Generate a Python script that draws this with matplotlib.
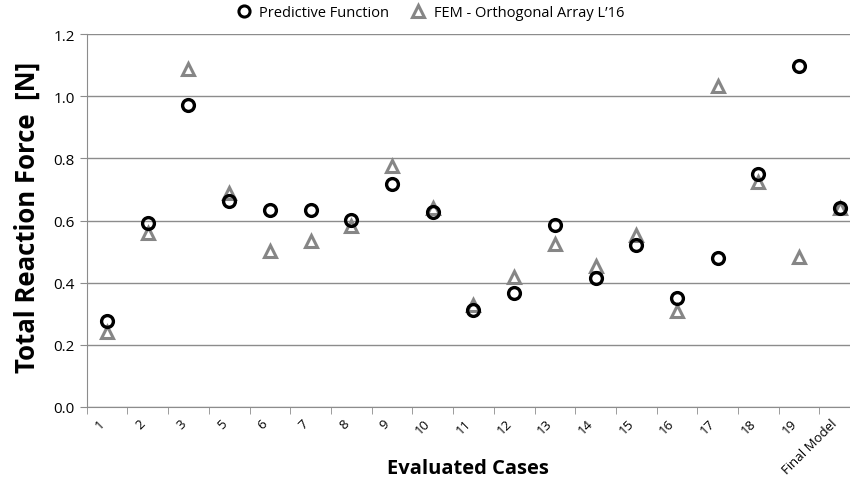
import numpy as np
import matplotlib
matplotlib.use("Agg")
import matplotlib.pyplot as plt
from matplotlib.lines import Line2D

cases = ["1", "2", "3", "5", "6", "7", "8", "9", "10", "11", "12", "13",
         "14", "15", "16", "17", "18", "19", "Final Model"]
predictive = [0.277, 0.591, 0.972, 0.663, 0.635, 0.635, 0.603, 0.718, 0.628,
              0.311, 0.366, 0.584, 0.414, 0.521, 0.351, 0.478, 0.751, 1.098, 0.640]
fem = [0.240, 0.561, 1.087, 0.688, 0.502, 0.533, 0.581, 0.774, 0.641,
       0.328, 0.419, 0.523, 0.454, 0.553, 0.309, 1.034, 0.725, 0.481, 0.640]
yticks = [0.0, 0.2, 0.4, 0.6, 0.8, 1.0, 1.2]

plt.rcParams['font.family'] = ['Open Sans', 'DejaVu Sans']

fig = plt.figure(figsize=(8.5, 4.81), dpi=100)
# plot area runs a little past the right edge, as in the original
ax = fig.add_axes([0.102, 0.152, 0.91, 0.775])

x = np.arange(len(cases))
ax.plot(x, fem, linestyle='none', marker='^', markersize=9, markerfacecolor='none',
        markeredgecolor='#868686', markeredgewidth=2.2, zorder=3)
ax.plot(x, predictive, linestyle='none', marker='o', markersize=8.5, markerfacecolor='none',
        markeredgecolor='black', markeredgewidth=2.4, zorder=4)

ax.set_xlim(-0.5, len(cases) - 0.5)
ax.set_ylim(0, 1.2)
ax.set_yticks(yticks)
ax.set_yticklabels([f"{v:.1f}" for v in yticks], fontsize=11)
ax.yaxis.grid(True, color='#8c8c8c', linewidth=1)
ax.set_axisbelow(True)

ax.set_xticks(x)
ax.set_xticklabels(cases, rotation=45, ha='right', va='top', fontsize=9.5)
ax.tick_params(axis='x', length=0, pad=7)
ax.set_xticks(np.arange(-0.5, len(cases)), minor=True)
ax.tick_params(axis='x', which='minor', length=5, color='#8c8c8c')
ax.tick_params(axis='y', length=5, color='#8c8c8c')

for s in ['top', 'right']:
    ax.spines[s].set_visible(False)
for s in ['left', 'bottom']:
    ax.spines[s].set_color('#8c8c8c')

ax.set_ylabel("Total Reaction Force  [N]", fontsize=18.5, fontweight='bold')
ax.yaxis.set_label_coords(-0.059, 0.51)
ax.set_xlabel("Evaluated Cases", fontsize=14.5, fontweight='bold')
ax.xaxis.set_label_coords(0.493, -0.138)

handles = [
    Line2D([], [], linestyle='none', marker='o', markersize=8, markerfacecolor='none',
           markeredgecolor='black', markeredgewidth=2.2),
    Line2D([], [], linestyle='none', marker='^', markersize=8, markerfacecolor='none',
           markeredgecolor='#868686', markeredgewidth=2.2),
]
fig.legend(handles, ["Predictive Function", "FEM - Orthogonal Array L\u201916"],
           loc='upper center', bbox_to_anchor=(0.502, 1.015), ncol=2, frameon=False,
           fontsize=10.5, handletextpad=0.05, columnspacing=1.0)

fig.savefig("out.png", dpi=100)
